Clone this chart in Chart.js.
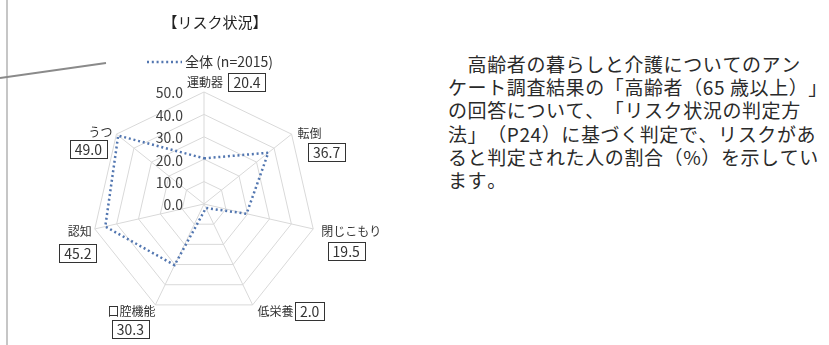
<!DOCTYPE html>
<html lang="ja">
<head>
<meta charset="utf-8">
<script src="https://cdn.jsdelivr.net/npm/chart.js@4/dist/chart.umd.min.js"></script>
<style>
  body { margin: 0; background: #fff; width: 829px; height: 345px; overflow: hidden; position: relative; }
  #riskChart { position: absolute; left: 0; top: 0; }
  .note { position: absolute; left: 448px; top: 52px; font-family: "Noto Sans CJK JP", sans-serif;
          font-size: 19px; letter-spacing: 0.6px; line-height: 23.2px; color: #2a2a2a; white-space: nowrap;
          text-spacing-trim: space-all; font-kerning: none; }
</style>
</head>
<body>
<canvas id="riskChart" width="420" height="345"></canvas>
<div class="note">
  <div>&#12288;高齢者の暮らしと介護についてのアン</div>
  <div>ケート調査結果の「高齢者（65 歳以上）」</div>
  <div>の回答について、「リスク状況の判定方</div>
  <div>法」（P24）に基づく判定で、リスクがあ</div>
  <div>ると判定された人の割合（%）を示してい</div>
  <div>ます。</div>
</div>
<script>
// リスク項目と該当者の割合（%）
const riskItems = ['運動器', '転倒', '閉じこもり', '低栄養', '口腔機能', '認知', 'うつ'];
const riskRates = [20.4, 36.7, 19.5, 2.0, 30.3, 45.2, 49.0];
const seriesName = '全体 (n=2015)';
const chartTitle = '【リスク状況】';
const tickValues = [0, 10, 20, 30, 40, 50];

// label placement around each outer vertex: text anchor + value box centre
const labelPos = [
    { tx: 19, ty: -10, align: 'right', bx: 43, by: -10 },
    { tx: 6, ty: -1, align: 'left', bx: 35, by: 18 },
    { tx: 8, ty: 3, align: 'left', bx: 33, by: 22 },
    { tx: 5, ty: 7, align: 'left', bx: 57, by: 6 },
    { tx: -24, ty: 7, align: 'center', bx: -25, by: 24 },
    { tx: -15, ty: 3, align: 'center', bx: -17, by: 24 },
    { tx: -4, ty: -2, align: 'right', bx: -28, by: 15 }
];

const jpFont = '"Noto Sans CJK JP", sans-serif';

const riskLabels = {
    id: 'riskLabels',
    afterDraw(chart) {
        const ctx = chart.ctx;
        const r = chart.scales.r;
        ctx.save();

        // frame lines on the left
        ctx.strokeStyle = '#c6c6c6';
        ctx.lineWidth = 2;
        ctx.beginPath();
        ctx.moveTo(7, 0);
        ctx.lineTo(7, 345);
        ctx.stroke();
        ctx.strokeStyle = '#8a8a8a';
        ctx.beginPath();
        ctx.moveTo(0, 78);
        ctx.lineTo(106, 63);
        ctx.stroke();

        // title
        ctx.fillStyle = '#222';
        ctx.font = '15px ' + jpFont;
        ctx.textAlign = 'center';
        ctx.textBaseline = 'middle';
        ctx.fillText(chartTitle, 215, 22);

        // legend
        const ds = chart.data.datasets[0];
        ctx.strokeStyle = ds.borderColor;
        ctx.lineWidth = ds.borderWidth;
        ctx.setLineDash(ds.borderDash);
        ctx.beginPath();
        ctx.moveTo(147, 62);
        ctx.lineTo(182, 62);
        ctx.stroke();
        ctx.setLineDash([]);
        ctx.font = '14px ' + jpFont;
        ctx.textAlign = 'left';
        ctx.fillStyle = '#333';
        ctx.fillText(seriesName, 185, 62);

        // tick labels, left of the vertical axis
        ctx.font = '14px ' + jpFont;
        ctx.textAlign = 'right';
        ctx.fillStyle = '#404040';
        r.ticks.forEach(t => {
            const d = r.getDistanceFromCenterForValue(t.value);
            ctx.fillText(t.value.toFixed(1), r.xCenter - 21, r.yCenter - d + 1);
        });

        // item names and boxed values
        riskItems.forEach((name, i) => {
            const p = r.getPointPosition(i, r.drawingArea);
            const lp = labelPos[i];
            ctx.font = '12px ' + jpFont;
            ctx.textAlign = lp.align;
            ctx.fillStyle = '#333';
            ctx.fillText(name, p.x + lp.tx, p.y + lp.ty);

            const txt = riskRates[i].toFixed(1);
            ctx.font = '14px ' + jpFont;
            const w = ctx.measureText(txt).width + 10;
            const h = 18;
            const cx = p.x + lp.bx, cy = p.y + lp.by;
            ctx.fillStyle = '#fff';
            ctx.fillRect(cx - w / 2, cy - h / 2, w, h);
            ctx.strokeStyle = '#333';
            ctx.lineWidth = 1;
            ctx.strokeRect(Math.round(cx - w / 2) + 0.5, Math.round(cy - h / 2) + 0.5, Math.round(w), h);
            ctx.textAlign = 'center';
            ctx.fillStyle = '#333';
            ctx.fillText(txt, cx, cy + 1);
        });
        ctx.restore();
    }
};

const ctx = document.getElementById('riskChart').getContext('2d');
const chart = new Chart(ctx, {
    type: 'radar',
    data: {
        labels: riskItems,
        datasets: [{
            label: seriesName,
            data: riskRates,
            fill: false,
            borderColor: '#5276b0',
            borderWidth: 2.5,
            borderDash: [2, 2.8],
            pointRadius: 0,
            tension: 0
        }]
    },
    options: {
        responsive: false,
        animation: false,
        devicePixelRatio: 1,
        layout: { padding: { left: 92, top: 92, right: 103, bottom: 29 } },
        plugins: {
            legend: { display: false },
            title: { display: false },
            tooltip: { enabled: false }
        },
        scales: {
            r: {
                min: tickValues[0],
                max: tickValues[tickValues.length - 1],
                ticks: { stepSize: 10, display: false },
                grid: { color: '#d9d9d9', lineWidth: 1 },
                angleLines: { color: '#d9d9d9', lineWidth: 1 },
                pointLabels: { display: false }
            }
        }
    },
    plugins: [riskLabels]
});
</script>
</body>
</html>
